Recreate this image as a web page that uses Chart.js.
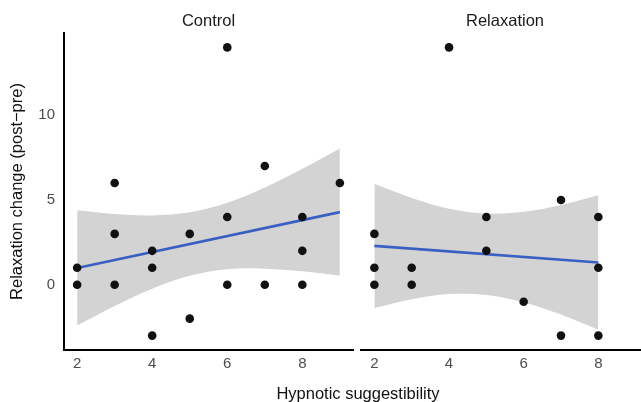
<!DOCTYPE html>
<html><head><meta charset="utf-8">
<script src="https://cdn.jsdelivr.net/npm/chart.js@4.4.1/dist/chart.umd.min.js"></script>
<style>
html,body{margin:0;padding:0;background:#fff;overflow:hidden;}
#wrap{position:relative;width:641px;height:402px;overflow:hidden;}
#c1{position:absolute;left:0;top:0;}
#c2{position:absolute;left:357px;top:0;}
</style></head>
<body>
<div id="wrap">
<canvas id="c1" width="641" height="402"></canvas>
<canvas id="c2" width="288" height="402"></canvas>
</div>
<script>
// ---- data ----
const panelNames = ["Control", "Relaxation"];
const yTicks = [0, 5, 10];
const xTicks = [2, 4, 6, 8];

const controlX = [2, 2, 3, 3, 3, 4, 4, 4, 5, 5, 6, 6, 6, 7, 7, 8, 8, 8, 9];
const controlY = [1, 0, 6, 3, 0, 2, 1, -3, 3, -2, 14, 4, 0, 7, 0, 4, 2, 0, 6];
const relaxX = [2, 2, 2, 3, 3, 4, 5, 5, 6, 7, 7, 8, 8, 8];
const relaxY = [3, 1, 0, 1, 0, 14, 4, 2, -1, 5, -3, 4, 1, -3];

// fitted line ends
const controlFitX = [2, 9];
const controlFitY = [0.99, 4.28];
const relaxFitX = [2, 8];
const relaxFitY = [2.29, 1.31];

// confidence band
const controlBandX = [2, 3, 4, 5, 6, 7, 8, 9];
const controlBandUpper = [4.39, 4.17, 4.09, 4.27, 4.84, 5.74, 6.84, 8.04];
const controlBandLower = [-2.41, -1.25, -0.23, 0.53, 0.91, 0.95, 0.79, 0.53];
const relaxBandX = [2, 3, 4, 5, 6, 7, 8];
const relaxBandUpper = [5.95, 5.11, 4.48, 4.20, 4.31, 4.71, 5.28];
const relaxBandLower = [-1.37, -0.85, -0.55, -0.60, -1.03, -1.76, -2.66];

const yMin = -3.85, yMax = 14.85;
const FONT = "'Liberation Sans', Arial, Helvetica, sans-serif";

function pts(xs, ys) { return xs.map((x, i) => ({x: x, y: ys[i]})); }

function makeDatasets(px, py, fx, fy, bx, bu, bl) {
  return [
    {type: 'scatter', data: pts(px, py), pointRadius: 4.3, pointHoverRadius: 4.3,
     pointBackgroundColor: '#111', pointBorderWidth: 0, showLine: false},
    {type: 'line', data: pts(fx, fy), borderColor: '#3A5FC2', borderWidth: 2.7,
     pointRadius: 0, fill: false, tension: 0},
    {type: 'line', data: pts(bx, bu), borderWidth: 0, borderColor: 'rgba(0,0,0,0)',
     pointRadius: 0, fill: false, tension: 0.35},
    {type: 'line', data: pts(bx, bl), borderWidth: 0, borderColor: 'rgba(0,0,0,0)',
     pointRadius: 0, fill: '-1', backgroundColor: 'rgb(211,211,211)', tension: 0.35}
  ];
}

const stripPlugin = {
  id: 'strip',
  afterDraw(chart, args, opts) {
    const ctx = chart.ctx;
    const xs = chart.scales.x;
    ctx.save();
    ctx.font = "16.5px " + FONT;
    ctx.fillStyle = '#1a1a1a';
    ctx.textAlign = 'center';
    ctx.textBaseline = 'alphabetic';
    ctx.fillText(opts.label, xs.getPixelForValue(5.5), 26);
    if (opts.xTitle) {
      ctx.fillStyle = '#111';
      ctx.fillText(opts.xTitle, 358, 399);
    }
    ctx.restore();
  }
};

function xScale(min, max) {
  return {
    type: 'linear', min: min, max: max,
    afterBuildTicks(s) { s.ticks = xTicks.map(v => ({value: v})); },
    afterFit(s) { s.height = 52; s.paddingLeft = 0; s.paddingRight = 0; },
    grid: {display: false, drawTicks: false, tickLength: 0},
    border: {display: true, color: '#000', width: 2},
    ticks: {padding: 5, color: '#4d4d4d', font: {family: FONT, size: 15}}
  };
}

// Control panel
new Chart(document.getElementById('c1'), {
  data: {datasets: makeDatasets(controlX, controlY, controlFitX, controlFitY,
                                controlBandX, controlBandUpper, controlBandLower)},
  options: {
    responsive: false, animation: false, events: [],
    layout: {padding: {top: 33, right: 288, left: 0, bottom: 0}},
    plugins: {legend: {display: false}, tooltip: {enabled: false},
              strip: {label: panelNames[0], xTitle: 'Hypnotic suggestibility'}},
    scales: {
      x: xScale(1.65, 9.35),
      y: {
        type: 'linear', min: yMin, max: yMax,
        afterBuildTicks(s) { s.ticks = yTicks.map(v => ({value: v})); },
        afterFit(s) { s.width = 64; s.paddingTop = 0; s.paddingBottom = 0; },
        grid: {display: false, drawTicks: false, tickLength: 0},
        border: {display: true, color: '#000', width: 2},
        ticks: {padding: 9, color: '#4d4d4d', font: {family: FONT, size: 15}},
        title: {display: true, text: 'Relaxation change (post\u2212pre)', color: '#111',
                font: {family: FONT, size: 16.5}, padding: {top: 8, bottom: 0}}
      }
    }
  },
  plugins: [stripPlugin]
});

// Relaxation panel (cropped on the right, as in the reference)
new Chart(document.getElementById('c2'), {
  data: {datasets: makeDatasets(relaxX, relaxY, relaxFitX, relaxFitY,
                                relaxBandX, relaxBandUpper, relaxBandLower)},
  options: {
    responsive: false, animation: false, events: [],
    layout: {padding: {top: 33, right: 4, left: 4, bottom: 0}},
    plugins: {legend: {display: false}, tooltip: {enabled: false},
              strip: {label: panelNames[1]}},
    scales: {
      x: xScale(1.65, 9.135),
      y: {type: 'linear', min: yMin, max: yMax, display: false}
    }
  },
  plugins: [stripPlugin]
});
</script>
</body></html>
